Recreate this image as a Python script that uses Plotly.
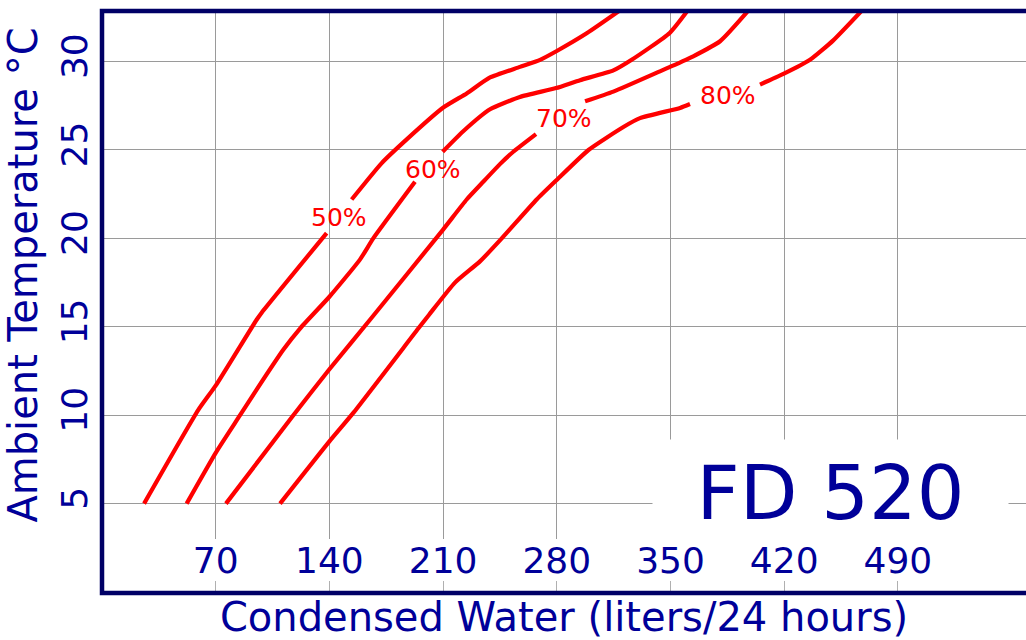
import plotly.graph_objects as go

# ---- data ----
x_ticks = [70, 140, 210, 280, 350, 420, 490]
y_ticks = [5, 10, 15, 20, 25, 30]

rh_labels = ["50%", "60%", "70%", "80%"]

x50 = [25.9, 59.3, 70.2, 95.2, 98.3, 138.3, None, 153.7, 172.2, 187.6, 210.1, 224.5, 238.9, 257.3, 269.7, 280.0, 298.4, 320.5]
y50 = [5.0, 10.3, 11.7, 15.4, 15.8, 20.3, None, 22.2, 24.26, 25.6, 27.4, 28.2, 29.1, 29.7, 30.1, 30.6, 31.6, 33.0]

x60 = [52.1, 70.2, 85.0, 95.2, 111.6, 121.9, 140.0, 158.8, 167.0, 192.7, None, 209.7, 222.4, 238.9, 257.3, 279.5, 294.3, 314.8, 326.1, 349.5, 361.5]
y60 = [5.0, 7.9, 10.0, 11.45, 13.7, 14.9, 16.7, 18.8, 20.0, 23.2, None, 24.9, 26.06, 27.3, 28.0, 28.5, 28.95, 29.5, 30.1, 31.62, 33.0]

x70 = [76.3, 117.8, 140.0, 165.0, 210.0, 224.5, 234.7, 245.0, 253.2, 267.2, None, 297.4, 314.8, 343.5, 349.7, 364.0, 380.5, 399.0]
y70 = [5.0, 10.0, 12.6, 15.4, 20.5, 22.2, 23.2, 24.2, 24.9, 25.9, None, 27.75, 28.3, 29.45, 29.7, 30.3, 31.15, 33.0]

x80 = [109.6, 140.0, 154.7, 194.7, 201.5, 217.3, 232.7, 246.1, 267.6, 279.9, 299.5, 321.0, 331.2, 355.9, 362.0, None, 405.1, 419.5, 435.9, 450.2, 469.0]
y80 = [5.0, 8.52, 10.13, 14.9, 15.7, 17.5, 18.7, 20.0, 22.2, 23.3, 25.0, 26.3, 26.8, 27.38, 27.6, None, 28.7, 29.3, 30.1, 31.2, 33.0]

label_x = [146.1, 204.0, 284.6, 385.2]
label_y = [21.2, 23.9, 26.76, 28.08]

model_name = "FD 520"
x_title = "Condensed Water (liters/24 hours)"
y_title = "Ambient Temperature °C"

# ---- style ----
FONT = "DejaVu Sans"
TEXT = "#000099"
FRAME = "#000066"
RED = "#ff0000"
GRID = "#9a9a9a"

W, H = 1026, 640
L, R, T, B = 102, 0, 11, 47
plot_h = H - T - B
y_dom0 = (593 - 539) / plot_h
y2_dom1 = (593 - 581) / plot_h

fig = go.Figure()
for xs, ys in [(x50, y50), (x60, y60), (x70, y70), (x80, y80)]:
    fig.add_trace(go.Scatter(x=xs, y=ys, mode="lines", connectgaps=False,
                             line=dict(color=RED, width=4.2, shape="spline", smoothing=0.5),
                             showlegend=False, hoverinfo="skip"))
fig.add_trace(go.Scatter(x=[], y=[], xaxis="x2", yaxis="y2", showlegend=False))

for txt, lx, ly in zip(rh_labels, label_x, label_y):
    fig.add_annotation(x=lx, y=ly, xref="x", yref="y", text=txt, showarrow=False,
                       font=dict(family=FONT, size=25, color=RED))

fig.add_annotation(x=448.5, y=5.62, xref="x", yref="y", text=model_name,
                   showarrow=False, bgcolor="white", width=353, height=104,
                   font=dict(family=FONT, size=75, color=TEXT))

# frame (left, top, bottom) in paper coordinates
fig.add_shape(type="path", xref="paper", yref="paper",
              path="M 1.02,0 L 0,0 L 0,1 L 1.02,1",
              line=dict(color=FRAME, width=4.5), layer="above")

fig.update_layout(
    width=W, height=H,
    margin=dict(l=L, r=R, t=T, b=B, autoexpand=False),
    paper_bgcolor="white", plot_bgcolor="white",
    font=dict(family=FONT, color=TEXT),
    xaxis=dict(range=[0, (W - L - R) / 1.6243], tickmode="array", tickvals=x_ticks,
               showgrid=True, gridcolor=GRID, gridwidth=1, zeroline=False,
               showline=False, ticks="", anchor="y",
               tickfont=dict(family=FONT, size=36, color=TEXT),
               ticklabelstandoff=-3,
               title=dict(text=x_title, font=dict(family=FONT, size=40, color=TEXT), standoff=30),
               automargin=False),
    yaxis=dict(domain=[y_dom0, 1], range=[3.0, 32.86], tickmode="array", tickvals=y_ticks,
               showgrid=True, gridcolor=GRID, gridwidth=1, zeroline=False,
               showline=False, ticks="", tickangle=-90, anchor="x",
               tickfont=dict(family=FONT, size=36, color=TEXT),
               ticklabelstandoff=7,
               title=dict(text=y_title, font=dict(family=FONT, size=40, color=TEXT), standoff=8),
               automargin=False),
    xaxis2=dict(matches="x", anchor="y2", tickmode="array", tickvals=x_ticks,
                showgrid=True, gridcolor="#b0b0b0", gridwidth=1, showticklabels=False,
                zeroline=False, showline=False, ticks=""),
    yaxis2=dict(domain=[0, y2_dom1], range=[0, 1], visible=False, anchor="x2"),
)

fig.write_html("out.html", config={"displayModeBar": False},
               post_script="document.body.style.margin='0';document.body.style.overflow='hidden';")
